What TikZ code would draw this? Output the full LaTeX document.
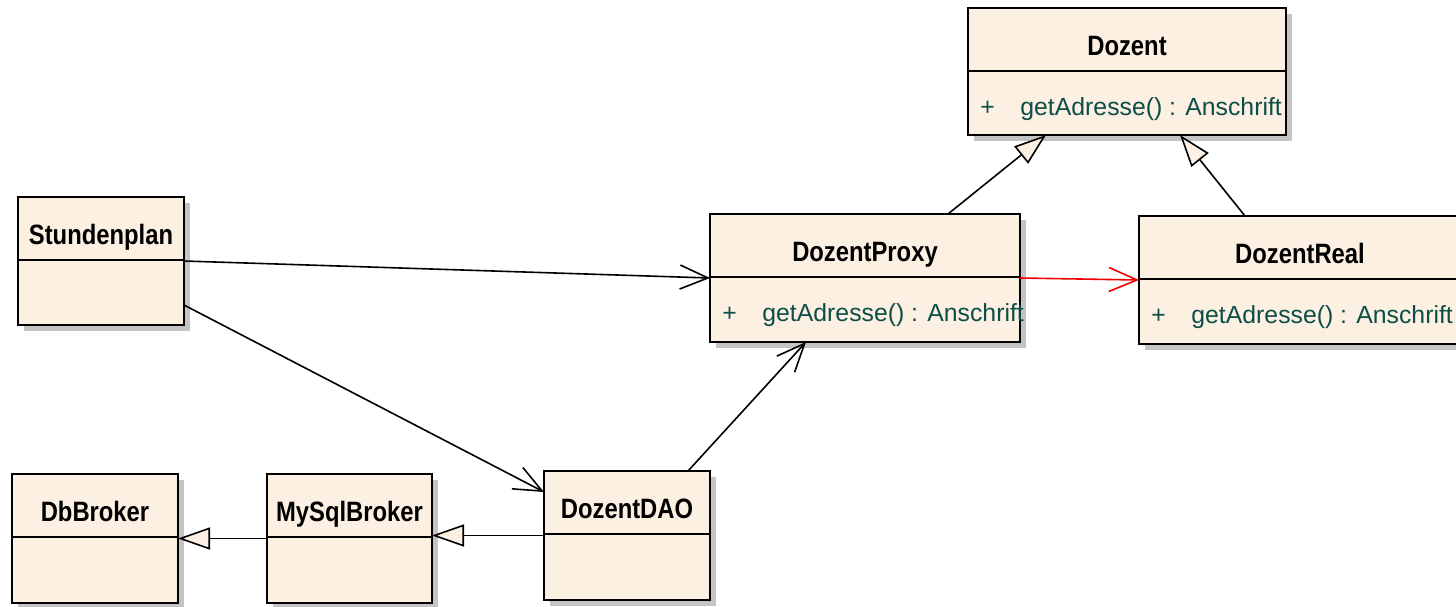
\documentclass[tikz,border=0pt]{standalone}
\usepackage{fontspec}
\newfontfamily\titlefont{Liberation Sans}[FakeStretch=0.85]
\newfontfamily\methfont{Liberation Sans}
\usetikzlibrary{arrows.meta,fit,calc}
\definecolor{clsfill}{RGB}{251,240,226}
\definecolor{clsshadow}{RGB}{196,196,196}
\definecolor{methcol}{RGB}{14,78,72}
\definecolor{redline}{RGB}{240,0,0}
\tikzset{
 clsbox/.style={draw=black, line width=1pt, fill=clsfill, inner sep=0pt, outer sep=0pt},
 clsdiv/.style={draw=black, line width=0.8pt},
 clstitle/.style={font={\titlefont\bfseries\fontsize{14}{16}\selectfont}, anchor=base, inner sep=0pt},
 clsmeth/.style={font={\methfont\fontsize{12.4}{15}\selectfont}, text=methcol, anchor=base west, inner sep=0pt},
 assoc/.style={line width=0.8pt, -{Straight Barb[length=14pt,width=12pt,line width=0.8pt]}},
 gener/.style={line width=0.8pt, -{Triangle[length=16pt,width=11pt,fill=clsfill,line width=0.8pt]}},
}
\newcommand\umlclass[6]{%
 \fill[clsshadow] ({#2+6},{#3+6}) rectangle ({#4+6},{#5+6});
 \node[clsbox, fit={(#2,#3) (#4,#5)}] (#1) {};
 \draw[clsdiv] ($(#1.north west)+(0,63)$) -- ($(#1.north east)+(0,63)$);
 \node[clstitle] (#1-title) at ($(#1.north)+(0,47)$) {#6};
}
\newcommand\umlmethod[2]{%
 \node[clsmeth] (#1-plus) at ($(#1.north west)+(12,107)$) {+};
 \node[clsmeth] (#1-meth) at ($(#1.north west)+(52,107)$) {#2};
}
\begin{document}
\begin{tikzpicture}[x=0.5pt,y=-0.5pt]
\useasboundingbox (0,0) rectangle (1456,606);
\umlclass{dozent}{968}{8}{1286}{135}{Dozent}
\umlmethod{dozent}{getAdresse() : Anschrift}
\umlclass{proxy}{710}{214}{1020}{342}{DozentProxy}
\umlmethod{proxy}{getAdresse() : Anschrift}
\umlclass{real}{1139}{216}{1461}{344}{DozentReal}
\umlmethod{real}{getAdresse() : Anschrift}
\umlclass{stund}{18}{197}{184}{325}{Stundenplan}
\umlclass{db}{12}{474}{178}{603}{DbBroker}
\umlclass{mysql}{267}{474}{432}{603}{MySqlBroker}
\umlclass{dao}{544}{471}{710}{600}{DozentDAO}

\draw[assoc] (stund.east) -- (proxy.west);
\draw[assoc] ($(stund.east)+(0,44)$) -- ($(dao.north west)+(0,21)$);
\draw[assoc] ($(dao.north west)+(144,0)$) -- ($(proxy.south west)+(96,0)$);
\draw[assoc, draw=redline] (proxy.east) -- (real.west);
\draw[gener] ($(proxy.north west)+(238,0)$) -- ($(dozent.south west)+(78,0)$);
\draw[gener] ($(real.north west)+(106,0)$) -- ($(dozent.south west)+(212,0)$);
\draw[gener] (mysql.west) -- (db.east);
\draw[gener] (dao.west) -- (mysql.east |- dao.west);
\end{tikzpicture}
\end{document}
